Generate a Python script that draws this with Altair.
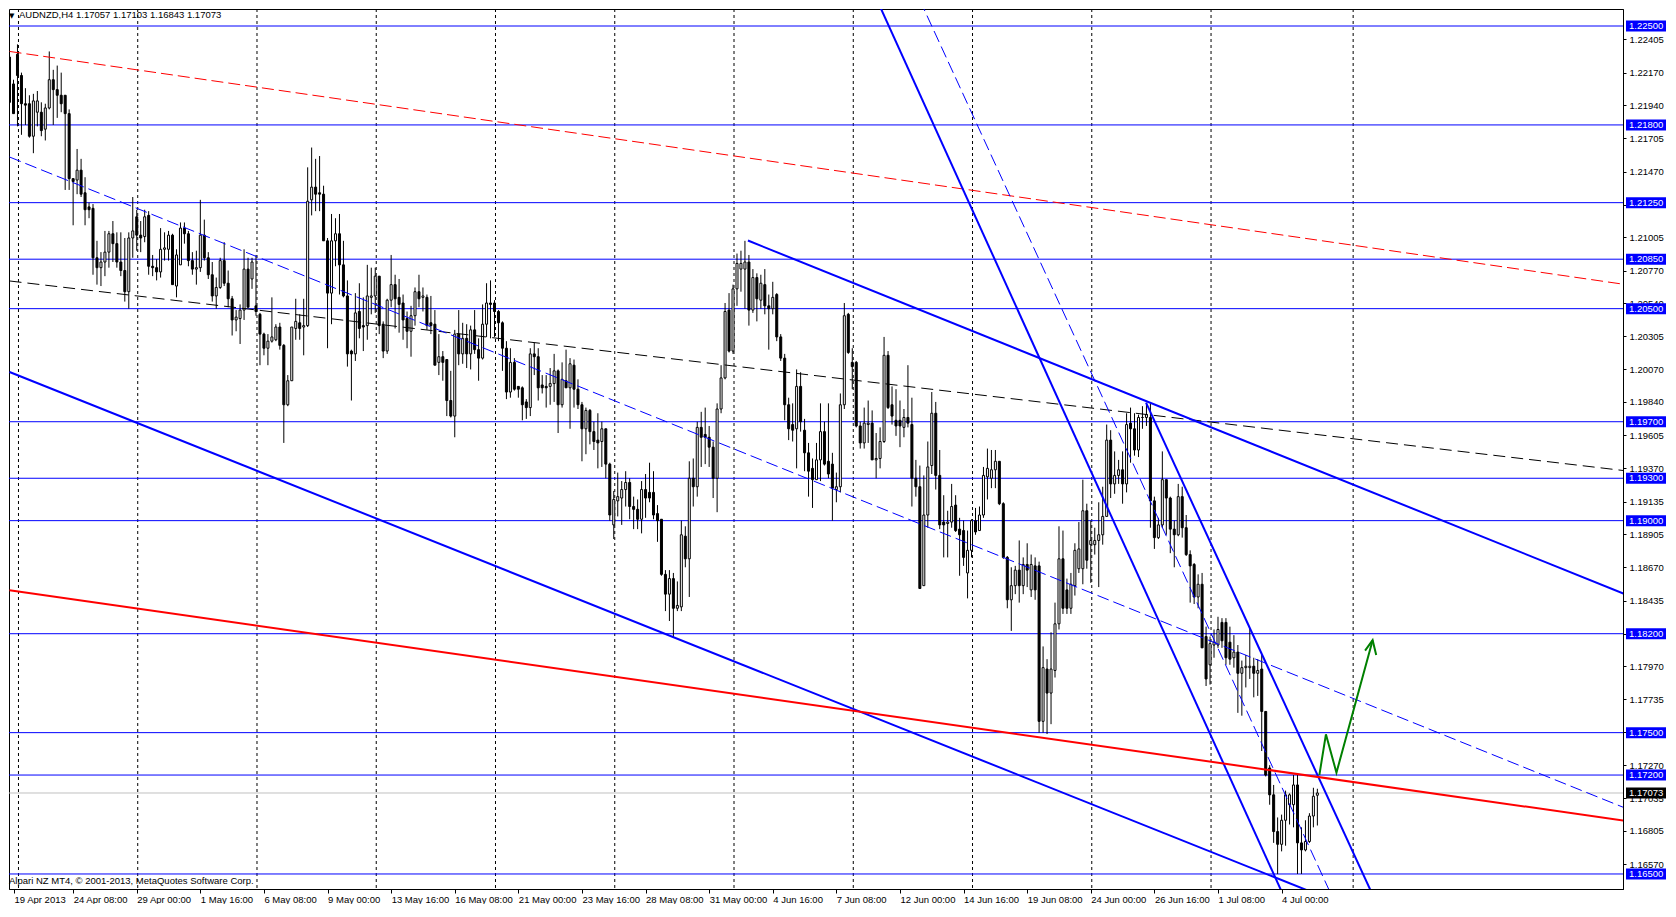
import altair as alt
import pandas as pd

# ---------------- data ----------------
opens = [
 1.2228,1.2209,1.2230,1.2215,1.2195,1.2195,1.2172,1.2189,1.2189,1.2177,
 1.2192,1.2212,1.2205,1.2201,1.2201,1.2188,1.2142,1.2141,1.2148,1.2132,
 1.2122,1.2121,1.2086,1.2079,1.2083,1.2090,1.2103,1.2096,1.2083,1.2077,
 1.2062,1.2100,1.2115,1.2102,1.2101,1.2116,1.2080,1.2079,1.2076,1.2092,
 1.2092,1.2102,1.2066,1.2081,1.2107,1.2103,1.2084,1.2078,1.2079,1.2102,
 1.2086,1.2074,1.2059,1.2065,1.2084,1.2068,1.2057,1.2042,1.2043,1.2049,
 1.2078,1.2071,1.2052,1.2046,1.2032,1.2022,1.2027,1.2028,1.2037,1.2024,
 1.1982,1.1999,1.2036,1.2040,1.2037,1.2038,1.2127,1.2136,1.2132,1.2131,
 1.2098,1.2061,1.2098,1.2103,1.2081,
 1.2059,1.2020,1.2018,1.2048,1.2038,1.2038,1.2058,1.2059,1.2073,1.2039,
 1.2020,1.2056,1.2067,1.2058,1.2054,1.2043,1.2034,1.2045,1.2062,1.2058,
 1.2058,1.2040,1.2039,1.2012,1.2016,1.2014,1.1985,1.1974,1.2032,1.2018,
 1.2029,1.2018,1.2035,1.2021,1.2015,1.2039,1.2054,1.2054,1.2048,1.2040,
 1.2022,1.1991,1.2012,1.1995,1.1994,1.1984,1.1980,1.2018,1.2016,1.1996,
 1.1995,1.1995,1.1997,1.2006,1.1982,1.1999,1.1994,1.2010,1.1993,1.1982,
 1.1965,1.1978,1.1963,1.1957,1.1956,1.1965,1.1940,1.1897,1.1914,1.1916,
 1.1922,1.1927,1.1910,1.1908,1.1901,1.1922,1.1920,1.1920,1.1905,1.1901,
 1.1862,1.1848,
 1.1859,1.1838,1.1839,1.1889,1.1873,1.1930,1.1924,1.1966,1.1961,1.1959,
 1.1952,1.1930,1.1979,1.2001,1.2049,1.2020,1.2064,1.2078,1.2078,1.2083,
 1.2049,1.2072,1.2056,1.2067,1.2052,1.2050,1.2060,1.2030,1.2015,1.1982,
 1.1968,1.1965,1.1995,1.1964,1.1948,1.1937,1.1929,1.1943,1.1963,1.1942,
 1.1940,1.1922,1.1924,1.1982,1.2046,1.2012,1.2012,1.1967,1.1955,1.1968,
 1.1969,1.1943,1.1944,1.1956,1.2017,1.1982,1.1971,1.1971,1.1966,1.1973,
 1.1968,1.1930,1.1924,1.1854,1.1904,1.1939,1.1976,1.1932,1.1899,1.1898,
 1.1899,1.1911,1.1894,1.1893,1.1863,1.1879,1.1900,1.1893,1.1904,1.1931,
 1.1930,1.1936,1.1942,1.1912,1.1874,1.1844,1.1854,1.1865,1.1854,1.1869,
 1.1851,1.1868,1.1868,1.1758,1.1795,1.1778,1.1794,1.1827,1.1873,1.1851,
 1.1838,1.1854,1.1866,1.1866,1.1907,1.1883,1.1883,1.1886,1.1890,1.1903,
 1.1957,1.1926,1.1932,1.1936,1.1926,1.1969,1.1965,1.1950,1.1973,1.1973,
 1.1973,1.1914,1.1888,1.1897,1.1929,1.1916,1.1894,1.1890,1.1917,1.1895,
 1.1876,1.1869,1.1846,1.1855,1.1818,1.1798,1.1812,1.1812,1.1828,1.1828,
 1.1814,1.1803,1.1807,1.1792,1.1796,1.1796,1.1797,1.1792,1.1795,1.1765,
 1.1725,1.1706,1.1680,1.1671,1.1688,1.1699,1.1699,1.1713,1.1672,1.1667,
 1.1673,1.1691,1.17057]
highs = [
 1.2230,1.2212,1.2237,1.2217,1.2206,1.2201,1.2202,1.2204,1.2196,1.2195,
 1.2232,1.2219,1.2222,1.2217,1.2201,1.2191,1.2142,1.2163,1.2156,1.2143,
 1.2125,1.2124,1.2098,1.2090,1.2105,1.2105,1.2112,1.2104,1.2104,1.2100,
 1.2104,1.2129,1.2120,1.2112,1.2120,1.2119,1.2088,1.2085,1.2107,1.2104,
 1.2105,1.2103,1.2092,1.2111,1.2111,1.2105,1.2090,1.2091,1.2127,1.2113,
 1.2090,1.2083,1.2072,1.2086,1.2097,1.2077,1.2059,1.2049,1.2053,1.2092,
 1.2086,1.2086,1.2088,1.2047,1.2033,1.2032,1.2058,1.2039,1.2040,1.2025,
 1.2003,1.2037,1.2057,1.2046,1.2057,1.2150,1.2164,1.2156,1.2158,1.2137,
 1.2100,1.2117,1.2114,1.2117,1.2098,
 1.2070,1.2021,1.2061,1.2068,1.2058,1.2081,1.2079,1.2079,1.2073,1.2041,
 1.2057,1.2088,1.2074,1.2071,1.2060,1.2048,1.2052,1.2065,1.2074,1.2065,
 1.2060,1.2059,1.2049,1.2032,1.2020,1.2014,1.2006,1.2035,1.2049,1.2040,
 1.2039,1.2038,1.2049,1.2029,1.2053,1.2068,1.2070,1.2056,1.2049,1.2041,
 1.2027,1.2022,1.2015,1.1995,1.1995,1.1986,1.2022,1.2026,1.2022,1.2003,
 1.2003,1.2008,1.2018,1.2007,1.2012,1.2021,1.2015,1.2014,1.2000,1.1984,
 1.1980,1.1979,1.1970,1.1976,1.1970,1.1965,1.1941,1.1921,1.1934,1.1928,
 1.1935,1.1930,1.1917,1.1915,1.1928,1.1933,1.1941,1.1935,1.1911,1.1901,
 1.1865,1.1865,
 1.1863,1.1857,1.1900,1.1896,1.1942,1.1944,1.1970,1.1977,1.1980,1.1967,
 1.1956,1.1983,1.2010,1.2054,1.2061,1.2067,1.2089,1.2091,1.2098,1.2088,
 1.2078,1.2075,1.2074,1.2078,1.2060,1.2069,1.2061,1.2032,1.2018,1.1987,
 1.1983,1.2007,1.2005,1.1972,1.1955,1.1944,1.1955,1.1983,1.1970,1.1983,
 1.1948,1.1934,1.1990,1.2054,1.2047,1.2022,1.2013,1.1970,1.1980,1.1985,
 1.1978,1.1962,1.1966,1.2030,1.2020,1.1995,1.1993,1.1985,1.1979,1.2010,
 1.1987,1.1943,1.1939,1.1932,1.1956,1.1991,1.1984,1.1950,1.1918,1.1907,
 1.1926,1.1918,1.1902,1.1900,1.1893,1.1901,1.1909,1.1910,1.1938,1.1951,
 1.1950,1.1950,1.1942,1.1913,1.1875,1.1867,1.1868,1.1886,1.1874,1.1884,
 1.1876,1.1874,1.1871,1.1811,1.1802,1.1821,1.1842,1.1896,1.1893,1.1859,
 1.1863,1.1884,1.1899,1.1929,1.1912,1.1900,1.1895,1.1913,1.1924,1.1968,
 1.1964,1.1949,1.1943,1.1949,1.1976,1.1980,1.1976,1.1975,1.1981,1.1983,
 1.1983,1.1917,1.1902,1.1949,1.1929,1.1917,1.1900,1.1926,1.1924,1.1904,
 1.1879,1.1870,1.1862,1.1863,1.1825,1.1818,1.1823,1.1832,1.1831,1.1831,
 1.1825,1.1819,1.1812,1.1801,1.1805,1.1824,1.1803,1.1802,1.1805,1.1765,
 1.1727,1.1713,1.1690,1.1692,1.1709,1.1707,1.1720,1.1720,1.1683,1.1688,
 1.1693,1.1711,1.17103]
lows = [
 1.2195,1.2188,1.2179,1.2173,1.2180,1.2171,1.2160,1.2179,1.2172,1.2169,
 1.2191,1.2180,1.2185,1.2189,1.2134,1.2134,1.2109,1.2131,1.2129,1.2109,
 1.2114,1.2074,1.2067,1.2066,1.2073,1.2079,1.2083,1.2079,1.2073,1.2055,
 1.2050,1.2086,1.2091,1.2090,1.2097,1.2074,1.2073,1.2070,1.2072,1.2084,
 1.2084,1.2067,1.2058,1.2081,1.2096,1.2080,1.2074,1.2067,1.2076,1.2084,
 1.2071,1.2055,1.2050,1.2064,1.2066,1.2051,1.2031,1.2034,1.2025,1.2042,
 1.2051,1.2064,1.2045,1.2010,1.2017,1.2010,1.2026,1.2027,1.2021,1.1955,
 1.1981,1.1999,1.2028,1.2028,1.2017,1.2037,1.2116,1.2119,1.2119,1.2098,
 1.2022,1.2039,1.2080,1.2060,1.2058,
 1.2009,1.1985,1.2013,1.2029,1.2020,1.2028,1.2046,1.2047,1.2032,1.2015,
 1.2018,1.2051,1.2036,1.2033,1.2028,1.2022,1.2016,1.2038,1.2051,1.2048,
 1.2035,1.2032,1.2010,1.2003,1.1999,1.1974,1.1973,1.1959,1.2010,1.2011,
 1.2008,1.2007,1.2018,1.1999,1.2014,1.2030,1.2029,1.2030,1.2027,1.2006,
 1.1986,1.1987,1.1992,1.1987,1.1971,1.1972,1.1974,1.2003,1.1985,1.1990,
 1.1980,1.1982,1.1984,1.1962,1.1980,1.1994,1.1965,1.1980,1.1979,1.1942,
 1.1947,1.1954,1.1950,1.1937,1.1938,1.1930,1.1900,1.1887,1.1903,1.1897,
 1.1910,1.1901,1.1894,1.1894,1.1891,1.1902,1.1913,1.1901,1.1885,1.1861,
 1.1836,1.1829,
 1.1817,1.1836,1.1836,1.1867,1.1846,1.1910,1.1917,1.1938,1.1940,1.1938,
 1.1916,1.1906,1.1976,1.2000,1.2019,1.2018,1.2052,1.2062,1.2050,1.2038,
 1.2047,1.2041,1.2050,1.2046,1.2021,1.2046,1.2027,1.2013,1.1971,1.1957,
 1.1956,1.1937,1.1963,1.1935,1.1917,1.1909,1.1929,1.1928,1.1939,1.1930,
 1.1900,1.1913,1.1920,1.1979,1.2018,1.1993,1.1966,1.1951,1.1951,1.1955,
 1.1943,1.1930,1.1937,1.1955,1.1979,1.1968,1.1960,1.1952,1.1959,1.1966,
 1.1910,1.1917,1.1852,1.1854,1.1895,1.1933,1.1922,1.1894,1.1874,1.1874,
 1.1895,1.1892,1.1861,1.1868,1.1845,1.1874,1.1890,1.1893,1.1902,1.1915,
 1.1923,1.1923,1.1911,1.1873,1.1838,1.1822,1.1848,1.1842,1.1848,1.1853,
 1.1846,1.1844,1.1750,1.1750,1.1749,1.1756,1.1789,1.1823,1.1834,1.1834,
 1.1834,1.1847,1.1863,1.1855,1.1866,1.1856,1.1876,1.1853,1.1883,1.1903,
 1.1916,1.1919,1.1926,1.1912,1.1920,1.1941,1.1946,1.1945,1.1965,1.1967,
 1.1895,1.1880,1.1887,1.1895,1.1890,1.1877,1.1867,1.1889,1.1888,1.1875,
 1.1842,1.1841,1.1838,1.1810,1.1783,1.1784,1.1803,1.1810,1.1810,1.1798,
 1.1798,1.1796,1.1764,1.1762,1.1782,1.1788,1.1775,1.1776,1.1737,1.1719,
 1.1699,1.1672,1.1650,1.1666,1.1670,1.1685,1.1683,1.1650,1.1650,1.1666,
 1.1672,1.1683,1.16843]
closes = [
 1.2196,1.2188,1.2215,1.2195,1.2194,1.2172,1.2197,1.2197,1.2176,1.2192,
 1.2212,1.2205,1.2201,1.2195,1.2188,1.2142,1.2140,1.2148,1.2131,1.2120,
 1.2120,1.2086,1.2079,1.2083,1.2090,1.2103,1.2096,1.2083,1.2077,1.2062,
 1.2100,1.2105,1.2102,1.2100,1.2115,1.2080,1.2079,1.2076,1.2092,1.2093,
 1.2102,1.2067,1.2088,1.2107,1.2103,1.2084,1.2078,1.2079,1.2102,1.2086,
 1.2074,1.2059,1.2065,1.2084,1.2068,1.2057,1.2042,1.2044,1.2049,1.2078,
 1.2051,1.2083,1.2048,1.2032,1.2022,1.2027,1.2030,1.2037,1.2024,1.1982,
 1.1999,1.2037,1.2041,1.2036,1.2038,1.2126,1.2136,1.2131,1.2131,1.2098,
 1.2061,1.2098,1.2103,1.2081,1.2059,
 1.2018,1.2018,1.2047,1.2036,1.2037,1.2059,1.2059,1.2073,1.2038,1.2020,
 1.2056,1.2067,1.2057,1.2053,1.2042,1.2034,1.2045,1.2062,1.2057,1.2059,
 1.2038,1.2038,1.2010,1.2016,1.2012,1.1985,1.1974,1.2032,1.2018,1.2029,
 1.2018,1.2035,1.2021,1.2015,1.2039,1.2054,1.2053,1.2048,1.2040,1.2022,
 1.1991,1.2012,1.1993,1.1993,1.1982,1.1980,1.2018,1.2016,1.1994,1.1994,
 1.1994,1.1997,1.2006,1.1982,1.2000,1.1994,1.2011,1.1993,1.1982,1.1965,
 1.1978,1.1963,1.1956,1.1955,1.1965,1.1940,1.1904,1.1915,1.1917,1.1922,
 1.1927,1.1910,1.1908,1.1901,1.1922,1.1916,1.1916,1.1904,1.1900,1.1862,
 1.1848,1.1859,
 1.1838,1.1840,1.1890,1.1873,1.1930,1.1924,1.1966,1.1959,1.1959,1.1952,
 1.1930,1.1979,1.2001,1.2048,1.2020,1.2064,1.2082,1.2082,1.2083,1.2049,
 1.2072,1.2057,1.2068,1.2052,1.2050,1.2058,1.2030,1.2015,1.1982,1.1965,
 1.1964,1.1995,1.1970,1.1948,1.1935,1.1929,1.1943,1.1963,1.1940,1.1933,
 1.1923,1.1924,1.1982,1.2045,1.2019,1.2009,1.1967,1.1955,1.1969,1.1969,
 1.1943,1.1944,1.1956,1.2017,1.1980,1.1974,1.1967,1.1967,1.1973,1.1969,
 1.1930,1.1924,1.1852,1.1904,1.1938,1.1976,1.1932,1.1897,1.1897,1.1899,
 1.1910,1.1893,1.1890,1.1874,1.1879,1.1900,1.1892,1.1904,1.1932,1.1937,
 1.1936,1.1942,1.1912,1.1874,1.1844,1.1854,1.1865,1.1854,1.1869,1.1865,
 1.1869,1.1851,1.1758,1.1796,1.1778,1.1795,1.1827,1.1873,1.1838,1.1838,
 1.1855,1.1879,1.1880,1.1907,1.1872,1.1886,1.1886,1.1890,1.1903,1.1957,
 1.1926,1.1932,1.1936,1.1926,1.1968,1.1965,1.1950,1.1973,1.1973,1.1975,
 1.1914,1.1888,1.1897,1.1929,1.1916,1.1894,1.1890,1.1917,1.1895,1.1876,
 1.1868,1.1846,1.1855,1.1810,1.1788,1.1813,1.1814,1.1823,1.1815,1.1803,
 1.1802,1.1807,1.1792,1.1796,1.1797,1.1797,1.1792,1.1794,1.1765,1.1720,
 1.1706,1.1680,1.1671,1.1688,1.1706,1.1706,1.1713,1.1672,1.1667,1.1673,
 1.1691,1.1705,1.17073]

levels = [1.22500, 1.21800, 1.21250, 1.20850, 1.20500, 1.19700, 1.19300,
          1.19000, 1.18200, 1.17500, 1.17200, 1.16500]
last_price = 1.17073

price_ticks = [1.22405, 1.22170, 1.21940, 1.21705, 1.21470, 1.21235, 1.21005,
               1.20770, 1.20540, 1.20305, 1.20070, 1.19840, 1.19605, 1.19370,
               1.19135, 1.18905, 1.18670, 1.18435, 1.18200, 1.17970, 1.17735,
               1.17505, 1.17270, 1.17035, 1.16805, 1.16570]

time_labels = ["19 Apr 2013", "24 Apr 08:00", "29 Apr 00:00", "1 May 16:00",
               "6 May 08:00", "9 May 00:00", "13 May 16:00", "16 May 08:00",
               "21 May 00:00", "23 May 16:00", "28 May 08:00", "31 May 00:00",
               "4 Jun 16:00", "7 Jun 08:00", "12 Jun 00:00", "14 Jun 16:00",
               "19 Jun 08:00", "24 Jun 00:00", "26 Jun 16:00", "1 Jul 08:00",
               "4 Jul 00:00"]
bars_per_label = 16
grid_bars = [2.25, 32.25, 62.25, 92.25, 122.25, 152.25, 182.25, 212.25,
             242.25, 272.25, 302.25, 338.0]

# trend lines: start bar, start price, end bar, end price
trend_names = ["red_dash", "black_dash", "blue_dash", "blue_low", "red_thick",
               "blue_up", "steep1", "steep_dash", "steep2"]
trend_i0 = [0.0, 0.0, 0.0, 0.0, 0.0, 185.75, 218.5, 229.0, 285.9]
trend_p0 = [1.22320, 1.20696, 1.21573, 1.20052, 1.18507, 1.20982, 1.22667, 1.22683, 1.19835]
trend_i1 = [406.2, 406.2, 406.2, 407.5, 407.5, 407.5, 323.0, 334.0, 345.0]
trend_p1 = [1.20672, 1.19354, 1.16969, 1.15474, 1.16872, 1.18467, 1.16190, 1.16261, 1.16224]

green_i = [329.5, 331.15, 333.8, 342.9]
green_p = [1.17200, 1.17488, 1.17217, 1.18154]
arrow_i = [341.0, 342.9, 343.8]
arrow_p = [1.18080, 1.18154, 1.18050]

header = "AUDNZD,H4  1.17057 1.17103 1.16843 1.17073"
footer = "Alpari NZ MT4, \u00a9 2001-2013, MetaQuotes Software Corp."

# ---------------- layout ----------------
W, H = 1614, 880
I0 = 1.125
I1 = I0 + W / 4.0
P_TOP, P_BOT = 1.226203, 1.163937
FONT = "Liberation Sans"
FS = 9.5

XS = alt.Scale(domain=[I0, I1], nice=False, zero=False)
YS = alt.Scale(domain=[P_BOT, P_TOP], nice=False, zero=False)

candles = pd.DataFrame({"i": list(range(len(opens))), "o": opens, "h": highs,
                        "l": lows, "c": closes})
candles["hi"] = candles[["h", "o", "c"]].max(axis=1)
candles["lo"] = candles[["l", "o", "c"]].min(axis=1)

label_expr = "[" + ",".join("'%s'" % t for t in time_labels) + "][round(datum.value / %d)]" % bars_per_label
x_values = [I0] + [bars_per_label * k for k in range(1, len(time_labels))]

x_axis = alt.Axis(values=x_values, labelExpr=label_expr, orient="bottom",
                  labelAlign="left", labelPadding=1, tickSize=4, tickColor="black",
                  domainColor="black", labelColor="black", labelFont=FONT,
                  labelFontSize=FS, labelOverlap=False, labelFlush=False,
                  labelBound=False, grid=False, title=None, zindex=0)
y_axis = alt.Axis(values=price_ticks, format=".5f", orient="right", tickSize=3,
                  tickColor="black", domainColor="black", labelColor="black",
                  labelFont=FONT, labelFontSize=FS, labelPadding=3,
                  labelOverlap=False, labelFlush=False, grid=False,
                  title=None, zindex=0)


def X(field):
    return alt.X(field, scale=XS, axis=x_axis)


def Y(field):
    return alt.Y(field, scale=YS, axis=y_axis)


grid = alt.Chart(pd.DataFrame({"g": grid_bars})).mark_rule(
    color="black", strokeWidth=1, strokeDash=[3, 3]
).encode(x=X("g:Q"))

lv = pd.DataFrame({"p": levels})
level_rules = alt.Chart(lv).mark_rule(color="#0000FF", strokeWidth=1).encode(y=Y("p:Q"))

cur_rule = alt.Chart(pd.DataFrame({"p": [last_price]})).mark_rule(
    color="#C0C0C0", strokeWidth=1).encode(y=Y("p:Q"))

wicks = alt.Chart(candles).mark_rule(color="black", strokeWidth=1, clip=True).encode(
    x=X("i:Q"), y=Y("lo:Q"), y2="hi:Q")

bodies = alt.Chart(candles).mark_bar(size=2, stroke="black", strokeWidth=1, clip=True).encode(
    x=X("i:Q"), y=Y("o:Q"), y2="c:Q",
    fill=alt.condition("datum.c >= datum.o", alt.value("white"), alt.value("black")))

rows = []
for n, a, b, c, d in zip(trend_names, trend_i0, trend_p0, trend_i1, trend_p1):
    rows.append({"name": n, "k": 0, "i": a, "p": b})
    rows.append({"name": n, "k": 1, "i": c, "p": d})
tl = pd.DataFrame(rows)


def trend(names, color, width, dash=None):
    kw = dict(color=color, strokeWidth=width, clip=True)
    if dash:
        kw["strokeDash"] = dash
    return alt.Chart(tl).transform_filter(
        alt.FieldOneOfPredicate(field="name", oneOf=names)
    ).mark_line(**kw).encode(
        x=X("i:Q"), y=Y("p:Q"), detail="name:N", order="k:Q")


t_red_dash = trend(["red_dash"], "#FF0000", 1, [12, 5])
t_black_dash = trend(["black_dash"], "#000000", 1, [12, 6])
t_blue_dash = trend(["blue_dash", "steep_dash"], "#0000FF", 1, [12, 5])
t_blue = trend(["blue_low", "blue_up", "steep1", "steep2"], "#0000FF", 2)
t_red = trend(["red_thick"], "#FF0000", 2)

gdf = pd.DataFrame({"k": list(range(len(green_i))), "i": green_i, "p": green_p, "s": "path"})
adf = pd.DataFrame({"k": list(range(len(arrow_i))), "i": arrow_i, "p": arrow_p, "s": "head"})
green = alt.Chart(pd.concat([gdf, adf])).mark_line(color="#008000", strokeWidth=2, clip=True).encode(
    x=X("i:Q"), y=Y("p:Q"), detail="s:N", order="k:Q")

head_text = alt.Chart(pd.DataFrame({"t": [header]})).mark_text(
    align="left", baseline="top", font=FONT, fontSize=FS, color="black").encode(
    x=alt.value(10), y=alt.value(1), text="t:N")
tri = alt.Chart(pd.DataFrame({"t": ["\u25bc"]})).mark_text(
    align="left", baseline="top", fontSize=7, color="black", font="DejaVu Sans").encode(
    x=alt.value(0), y=alt.value(3), text="t:N")
foot_text = alt.Chart(pd.DataFrame({"t": [footer]})).mark_text(
    align="left", baseline="middle", font=FONT, fontSize=FS, color="black").encode(
    x=alt.value(0), y=alt.value(872), text="t:N")

boxes = pd.DataFrame({"p": levels + [last_price],
                      "label": ["%.5f" % v for v in levels] + ["%.5f" % last_price],
                      "bg": ["#0000FF"] * len(levels) + ["#000000"]})
box_rects = alt.Chart(boxes).mark_rect(yOffset=-5.5, y2Offset=5.5).encode(
    x=alt.value(W + 3), x2=alt.value(W + 43),
    y=Y("p:Q"), y2="p:Q",
    fill=alt.Fill("bg:N", scale=None))
box_text = alt.Chart(boxes).mark_text(align="left", baseline="middle", font=FONT,
                                      fontSize=FS, color="white").encode(
    x=alt.value(W + 6), y=Y("p:Q"), text="label:N")

chart = alt.layer(
    grid, level_rules, cur_rule, wicks, bodies,
    t_red_dash, t_black_dash, t_blue_dash, t_blue, t_red, green,
    head_text, tri, foot_text, box_rects, box_text
).properties(
    width=W, height=H, padding=0, background="white"
).configure_view(stroke="black", strokeWidth=1)

chart.save("out.html", embed_options={"renderer": "svg", "actions": False})
